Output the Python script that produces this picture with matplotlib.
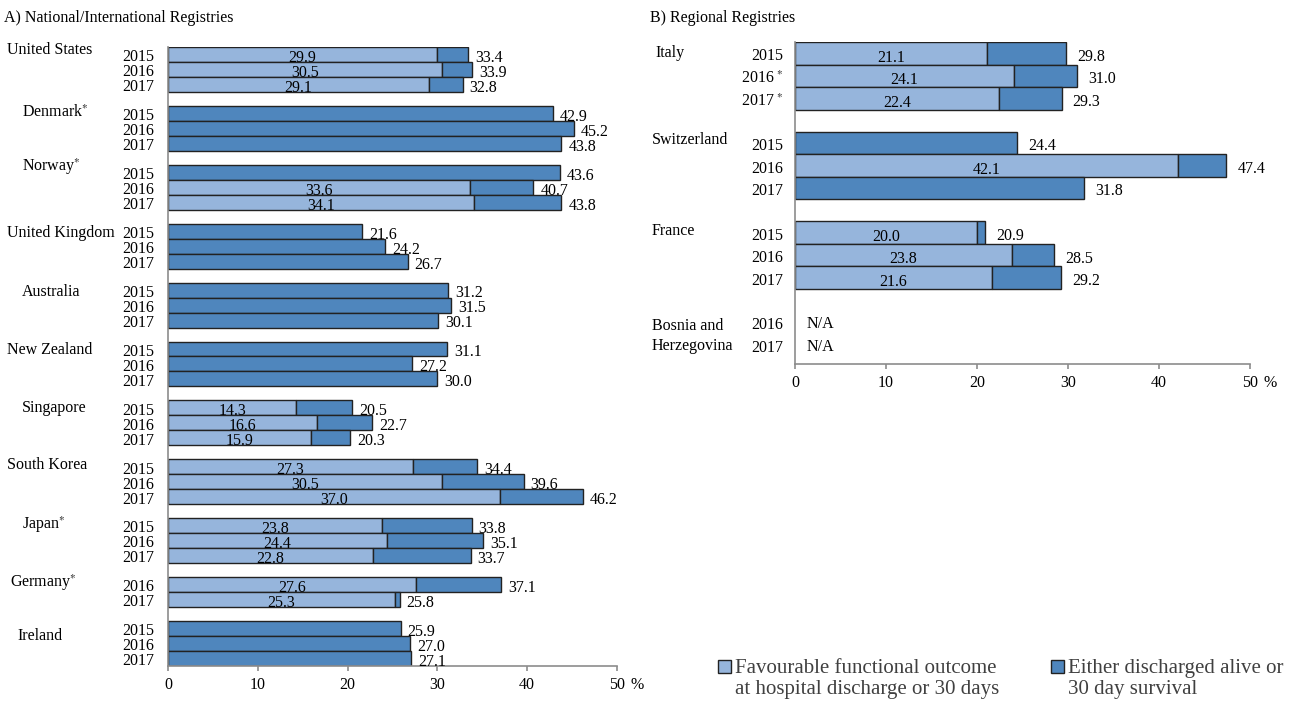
import matplotlib
matplotlib.use("Agg")
import matplotlib.pyplot as plt
from matplotlib import transforms
from matplotlib.patches import Rectangle

plt.rcParams["font.family"] = ["Liberation Serif", "DejaVu Serif"]
plt.rcParams["mathtext.fontset"] = "stix"

# ---------------- data ----------------
# A) National / International registries
nat_countries = ["United States", "Denmark", "Norway", "United Kingdom", "Australia",
                 "New Zealand", "Singapore", "South Korea", "Japan", "Germany", "Ireland"]
nat_starred = [False, True, True, False, False, False, False, False, True, True, False]
nat_years = [["2015", "2016", "2017"], ["2015", "2016", "2017"], ["2015", "2016", "2017"],
             ["2015", "2016", "2017"], ["2015", "2016", "2017"], ["2015", "2016", "2017"],
             ["2015", "2016", "2017"], ["2015", "2016", "2017"], ["2015", "2016", "2017"],
             ["2016", "2017"], ["2015", "2016", "2017"]]
nat_functional = [[29.9, 30.5, 29.1], [None, None, None], [None, 33.6, 34.1],
                  [None, None, None], [None, None, None], [None, None, None],
                  [14.3, 16.6, 15.9], [27.3, 30.5, 37.0], [23.8, 24.4, 22.8],
                  [27.6, 25.3], [None, None, None]]
nat_survival = [[33.4, 33.9, 32.8], [42.9, 45.2, 43.8], [43.6, 40.7, 43.8],
                [21.6, 24.2, 26.7], [31.2, 31.5, 30.1], [31.1, 27.2, 30.0],
                [20.5, 22.7, 20.3], [34.4, 39.6, 46.2], [33.8, 35.1, 33.7],
                [37.1, 25.8], [25.9, 27.0, 27.1]]

# B) Regional registries
reg_countries = ["Italy", "Switzerland", "France", "Bosnia and\nHerzegovina"]
reg_years = [["2015", "2016*", "2017*"], ["2015", "2016", "2017"],
             ["2015", "2016", "2017"], ["2016", "2017"]]
reg_functional = [[21.1, 24.1, 22.4], [None, 42.1, None], [20.0, 23.8, 21.6], [None, None]]
reg_survival = [[29.8, 31.0, 29.3], [24.4, 47.4, 31.8], [20.9, 28.5, 29.2], [None, None]]

tick_values = [0, 10, 20, 30, 40, 50]
legend_labels = ["Favourable functional outcome\nat hospital discharge or 30 days",
                 "Either discharged alive or\n30 day survival"]

# ---------------- style ----------------
LIGHT = "#96B5DC"
DARK = "#4F86BD"
EDGE = "#222222"
AXIS = "#8c8c8c"
W, H = 1294, 702

fig = plt.figure(figsize=(W / 100, H / 100), dpi=100)


def px_axes(left, top, right, bottom):
    return fig.add_axes([left / W, 1 - bottom / H, (right - left) / W, (bottom - top) / H])


def row_positions(groups, gap):
    pos, y = [], 0.0
    for g in groups:
        rows = []
        for _ in g:
            rows.append(y)
            y += 1
        pos.append(rows)
        y += gap
    return pos


def year_text(s):
    if s.endswith("*"):
        return s[:-1] + r"$^{\,*}$"
    return s


def draw_panel(ax, countries, years, functional, survival, gap, bottom_pad, label_x,
               year_x, label_dx, label_dy, starred=None):
    pos = row_positions(years, gap)
    last = pos[-1][-1]
    ax.set_xlim(0, 50)
    ax.set_ylim(last + 0.5 + bottom_pad, -0.5)
    for spine in ("top", "right"):
        ax.spines[spine].set_visible(False)
    for spine in ("left", "bottom"):
        ax.spines[spine].set_color(AXIS)
        ax.spines[spine].set_linewidth(1.2)
    ax.set_yticks([])
    ax.set_xticks(tick_values)
    ax.set_xticklabels([str(v) for v in tick_values])
    ax.tick_params(axis="x", direction="out", length=3.6, width=1.2, color=AXIS,
                   labelsize=11.5, pad=4.5)
    ax.annotate("%", xy=(50, 0), xycoords=("data", "axes fraction"),
                xytext=(10, -8), textcoords="offset points", ha="left", va="top",
                fontsize=11.5)

    fig_y = transforms.blended_transform_factory(fig.transFigure, ax.transData)
    for gi, name in enumerate(countries):
        rows = pos[gi]
        label = name + (r"$^{*}$" if starred and starred[gi] else "")
        ax.text(label_x[gi] / W, rows[0] + label_dy[gi], label, transform=fig_y,
                ha="left", va="center_baseline", fontsize=11.5, linespacing=1.3)
        for ri, y in enumerate(rows):
            ax.text(year_x / W, y + 0.05, year_text(years[gi][ri]), transform=fig_y,
                    ha="right", va="center_baseline", fontsize=11.5)
            f = functional[gi][ri]
            s = survival[gi][ri]
            if s is None:
                ax.annotate("N/A", xy=(0, y), xytext=(8, 0), textcoords="offset points",
                            ha="left", va="center_baseline", fontsize=11.5)
                continue
            if f is not None:
                ax.barh(y, f, height=1.0, color=LIGHT, edgecolor=EDGE, linewidth=1.0)
                ax.barh(y, s - f, left=f, height=1.0, color=DARK, edgecolor=EDGE,
                        linewidth=1.0)
                ax.text(f / 2, y + 0.1, f"{f:.1f}", ha="center", va="center_baseline",
                        fontsize=11.5)
            else:
                ax.barh(y, s, height=1.0, color=DARK, edgecolor=EDGE, linewidth=1.0)
            ax.annotate(f"{s:.1f}", xy=(s, y), xytext=(label_dx, -1),
                        textcoords="offset points", ha="left", va="center_baseline",
                        fontsize=11.5)


# Panel A
axA = px_axes(168, 47, 617, 666)
draw_panel(axA, nat_countries, nat_years, nat_functional, nat_survival, gap=0.93,
           bottom_pad=0.0,
           label_x=[7, 22, 22, 7, 22, 7, 22, 7, 22, 10, 17], year_x=154,
           label_dx=5,
           label_dy=[-0.45, -0.2, -0.6, 0.0, 0.0, -0.1, -0.15, -0.25, -0.25, -0.3, 0.35],
           starred=nat_starred)
fig.text(4 / W, 1 - 18 / H, "A) National/International Registries", ha="left",
         va="center", fontsize=11.5)

# Panel B
axB = px_axes(795, 42, 1250, 364)
draw_panel(axB, reg_countries, reg_years, reg_functional, reg_survival, gap=0.97,
           bottom_pad=0.35,
           label_x=[655, 652, 652, 652], year_x=783, label_dx=8,
           label_dy=[-0.1, -0.2, -0.15, 0.45])
fig.text(650 / W, 1 - 18 / H, "B) Regional Registries", ha="left", va="center",
         fontsize=11.5)

# Legend
for (x0, color, text) in [(718, LIGHT, legend_labels[0]), (1051, DARK, legend_labels[1])]:
    fig.patches.append(Rectangle((x0 / W, 1 - 673 / H), 13 / W, 13 / H,
                                 transform=fig.transFigure, facecolor=color,
                                 edgecolor=EDGE, linewidth=1.0))
    fig.text((x0 + 17) / W, 1 - 659 / H, text, ha="left", va="top", fontsize=15,
             color="#404040", linespacing=1.15)

fig.savefig("out.png", dpi=100)
